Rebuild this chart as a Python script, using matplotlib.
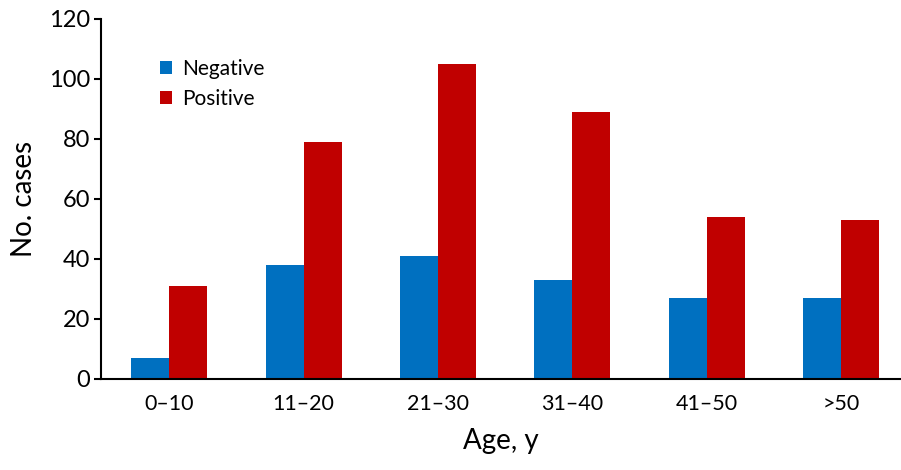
import matplotlib
matplotlib.use("Agg")
import matplotlib.pyplot as plt
import numpy as np

age_groups = ["0\u201310", "11\u201320", "21\u201330", "31\u201340", "41\u201350", ">50"]
negative = [7, 38, 41, 33, 27, 27]
positive = [31, 79, 105, 89, 54, 53]

plt.rcParams['font.family'] = ['Lato', 'DejaVu Sans']

fig = plt.figure(figsize=(9.01, 4.70), dpi=100)
ax = fig.add_axes([0.112, 0.194, 0.887, 0.766])

x = np.arange(len(age_groups))
w = 0.283
ax.bar(x - w / 2, negative, width=w, color="#0070C0", label="Negative")
ax.bar(x + w / 2, positive, width=w, color="#C00000", label="Positive")

ax.set_xlim(-0.51, 5.44)
ax.set_ylim(0, 120)
ax.set_yticks(range(0, 121, 20))
ax.set_xticks(x)
ax.set_xticklabels(age_groups)

ax.spines["top"].set_visible(False)
ax.spines["right"].set_visible(False)
ax.spines["left"].set_linewidth(1.5)
ax.spines["bottom"].set_linewidth(1.5)
ax.tick_params(axis="y", length=5, width=1.5, labelsize=17, pad=3)
ax.tick_params(axis="x", length=0, labelsize=15.5, pad=11)

ax.set_ylabel("No. cases", fontsize=20, labelpad=8)
ax.set_xlabel("Age, y", fontsize=20, labelpad=10)

ax.legend(loc="upper left", bbox_to_anchor=(0.05, 0.94), frameon=False,
          fontsize=15, handlelength=0.6, handleheight=0.6,
          handletextpad=0.5, labelspacing=0.45)

fig.savefig("out.png", dpi=100)
